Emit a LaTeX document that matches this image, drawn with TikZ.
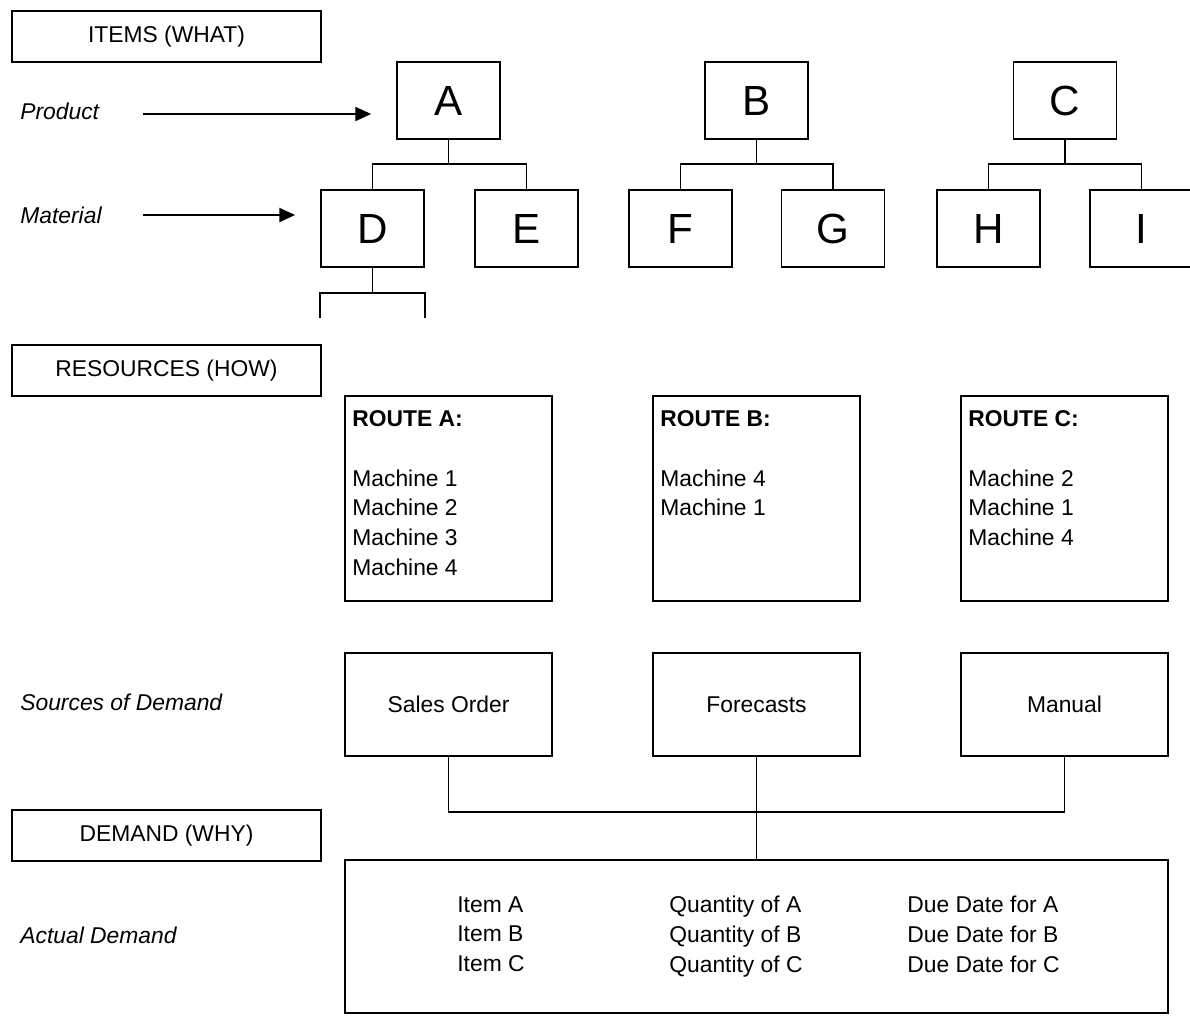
\documentclass[tikz,border=0pt]{standalone}
\usepackage{fontspec}
\setmainfont{Liberation Sans}
\usetikzlibrary{arrows.meta, positioning, calc}

\begin{document}
\begin{tikzpicture}[
  x=0.02cm, y=-0.02cm,
  every node/.style={font=\fontsize{13}{17}\selectfont},
  hdr/.style={draw, line width=1pt, minimum width=6.18cm, minimum height=1.02cm},
  part/.style={draw, line width=1pt, minimum width=2.06cm, minimum height=1.54cm,
    font=\fontsize{24}{28}\selectfont},
  route/.style={draw, line width=1pt, minimum width=4.14cm, minimum height=4.1cm},
  src/.style={draw, line width=1pt, minimum width=4.14cm, minimum height=2.06cm},
  lbl/.style={font=\fontsize{13}{17}\selectfont\itshape, anchor=west, inner sep=0pt},
  lst/.style={anchor=north west, inner sep=0pt, align=left},
  arrowline/.style={line width=1pt, -{Triangle[length=9pt,width=8pt]}, shorten >=0.5cm}
]
  \useasboundingbox (0,0) rectangle (1190,1015);

  % Items
  \node[hdr] (items) at (166.5,36.5) {ITEMS (WHAT)};
  \node[lbl] (product) at (20,111) {Product};
  \node[lbl] (material) at (20,215) {Material};

  \node[part] (A) at (448.5,100.5) {A};
  \node[part] (B) at (756.5,100.5) {B};
  \node[part] (C) at (1065,100.5) {C};
  \node[part] (D) at (372.5,228.5) {D};
  \node[part] (E) at (526.5,228.5) {E};
  \node[part] (F) at (680.5,228.5) {F};
  \node[part] (G) at (833,228.5) {G};
  \node[part] (H) at (988.5,228.5) {H};
  \node[part] (I) at (1141.5,228.5) {I};

  \coordinate (pstart) at (143,114);
  \coordinate (mstart) at (143,215);
  \draw[arrowline] (pstart) -- (pstart -| A.west);
  \draw[arrowline] (mstart) -- (mstart -| D.west);

  \foreach \p/\l/\r in {A/D/E, B/F/G, C/H/I} {
    \draw[line width=1pt] (\p.south) -- ++(0,24) -| (\l.north);
    \draw[line width=1pt] (\p.south) -- ++(0,24) -| (\r.north);
  }
  \draw[line width=1pt] (D.south) -- ++(0,25);
  \draw[line width=1pt] ($(D.south west)+(0,50)$) |- ($(D.south)+(0,25)$) -| ($(D.south east)+(0,50)$);

  % Resources
  \node[hdr] (resources) at (166.5,370.5) {RESOURCES (HOW)};
  \node[route] (routeA) at (448.5,498.5) {};
  \node[route] (routeB) at (756.5,498.5) {};
  \node[route] (routeC) at (1064.5,498.5) {};
  \node[lst] at (352,410) {\textbf{ROUTE A:}\\[17pt]Machine 1\\Machine 2\\Machine 3\\Machine 4};
  \node[lst] at (660,410) {\textbf{ROUTE B:}\\[17pt]Machine 4\\Machine 1};
  \node[lst] at (968,410) {\textbf{ROUTE C:}\\[17pt]Machine 2\\Machine 1\\Machine 4};

  % Demand
  \node[lbl] (sources) at (20,702) {Sources of Demand};
  \node[src] (sales) at (448.5,704.5) {Sales Order};
  \node[src] (forecast) at (756.5,704.5) {Forecasts};
  \node[src] (manual) at (1064.5,704.5) {Manual};

  \node[hdr] (demandhdr) at (166.5,835.5) {DEMAND (WHY)};
  \node[lbl] (actual) at (20,935) {Actual Demand};
  \node[draw, line width=1pt, minimum width=16.46cm, minimum height=3.06cm] (demand) at (756.5,936.5) {};
  \node[lst] at (457,896) {Item A\\Item B\\Item C};
  \node[lst] at (669,896) {Quantity of A\\Quantity of B\\Quantity of C};
  \node[lst] at (907,896) {Due Date for A\\Due Date for B\\Due Date for C};

  \draw[line width=1pt] (sales.south) -- ++(0,55) -| (manual.south);
  \draw[line width=1pt] (forecast.south) -- (demand.north);
\end{tikzpicture}
\end{document}
